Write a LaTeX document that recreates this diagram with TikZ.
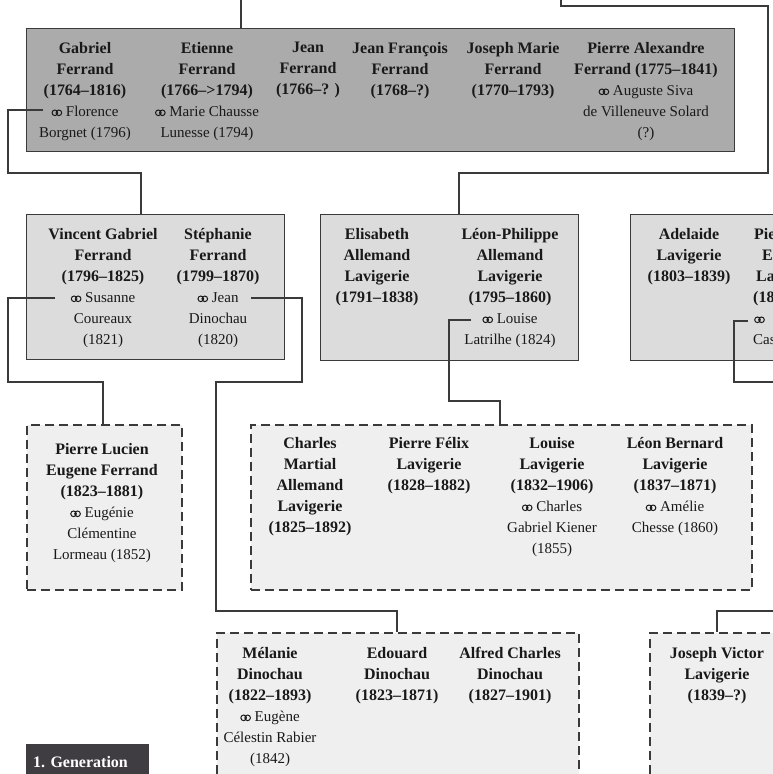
\documentclass[tikz,border=0pt]{standalone}
\usepackage{fontspec}
\setmainfont{Liberation Serif}
\definecolor{lin}{HTML}{3A3A3A}
\definecolor{genA}{HTML}{ABABAB}
\definecolor{genB}{HTML}{DCDCDC}
\definecolor{genC}{HTML}{EFEFEF}
\definecolor{tag}{HTML}{3F3D41}
\def\rings{\tikz[baseline=0pt, line width=1pt] \draw (3pt,3.5pt) circle (2.8pt) (7pt,3.5pt) circle (2.8pt);}
\def\wed{\rings\ }
\def\sm{\fontsize{15}{21}\selectfont\mdseries}

\tikzset{
  fam/.style={draw=lin, line width=1.4pt, anchor=north west, inner sep=0pt},
  kids/.style={fam, line width=1.5pt, dash pattern=on 9pt off 5pt, fill=genC},
  pers/.style={align=center, anchor=north, inner sep=0pt, text=black!90,
    font=\fontsize{16}{21}\selectfont\bfseries},
  con/.style={draw=lin, line width=1.3pt}
}

\begin{document}
\begin{tikzpicture}[x=1pt,y=-1pt]
  \useasboundingbox (0,0) rectangle (773,774);
  \clip (0,0) rectangle (773,774);

  \node[fam, fill=genA, minimum width=708, minimum height=123] (g1) at (26,28) {};
  \node[pers] (gabriel) at (85,42) {Gabriel\\Ferrand\\(1764–1816)\\\sm\wed Florence\\\sm Borgnet (1796)};
  \node[pers] (etienne) at (207,42) {Etienne\\Ferrand\\(1766–>1794)\\\sm\wed Marie Chausse\\\sm Lunesse (1794)};
  \node[pers] (jean) at (308,42) {Jean\\Ferrand\\(1766–? )};
  \node[pers] (jeanfr) at (400,42) {Jean François\\Ferrand\\(1768–?)};
  \node[pers] (joseph) at (513,42) {Joseph Marie\\Ferrand\\(1770–1793)};
  \node[pers] (pierrea) at (646,42) {Pierre Alexandre\\Ferrand (1775–1841)\\\sm\wed Auguste Siva\\\sm de Villeneuve Solard\\\sm (?)};

  \node[fam, fill=genB, minimum width=258, minimum height=145] (g2a) at (26,214) {};
  \node[fam, fill=genB, minimum width=258, minimum height=146] (g2b) at (320,214) {};
  \node[fam, fill=genB, minimum width=180, minimum height=146] (g2c) at (630,214) {};
  \node[pers] (vincent) at (103,228) {Vincent Gabriel\\Ferrand\\(1796–1825)\\\sm\wed Susanne\\\sm Coureaux\\\sm (1821)};
  \node[pers] (stephanie) at (218,228) {Stéphanie\\Ferrand\\(1799–1870)\\\sm\wed Jean\\\sm Dinochau\\\sm (1820)};
  \node[pers] (elisabeth) at (377,228) {Elisabeth\\Allemand\\Lavigerie\\(1791–1838)};
  \node[pers] (leon) at (510,228) {Léon-Philippe\\Allemand\\Lavigerie\\(1795–1860)\\\sm\wed Louise\\\sm Latrilhe (1824)};
  \node[pers] (adelaide) at (689,228) {Adelaide\\Lavigerie\\(1803–1839)};
  \node[pers, align=left, anchor=north west] (pierree) at (753,228) {\hspace*{1pt}Pie\\\hspace*{9pt}E\\\hspace*{3pt}La\\(18\\\sm\hspace*{1pt}\rings\\\sm Cas};

  \node[kids, minimum width=155, minimum height=165] (g3a) at (26,424) {};
  \node[kids, minimum width=501, minimum height=165] (g3b) at (250,424) {};
  \node[pers] (lucien) at (102,443) {Pierre Lucien\\Eugene Ferrand\\(1823–1881)\\\sm\wed Eugénie\\\sm Clémentine\\\sm Lormeau (1852)};
  \node[pers] (charles) at (310,437) {Charles\\Martial\\Allemand\\Lavigerie\\(1825–1892)};
  \node[pers] (felix) at (429,437) {Pierre Félix\\Lavigerie\\(1828–1882)};
  \node[pers] (louise) at (552,437) {Louise\\Lavigerie\\(1832–1906)\\\sm\wed Charles\\\sm Gabriel Kiener\\\sm (1855)};
  \node[pers] (bernard) at (675,437) {Léon Bernard\\Lavigerie\\(1837–1871)\\\sm\wed Amélie\\\sm Chesse (1860)};

  \node[kids, minimum width=362, minimum height=180] (g4a) at (216,632) {};
  \node[kids, minimum width=180, minimum height=180] (g4b) at (649,632) {};
  \node[pers] (melanie) at (270,647) {Mélanie\\Dinochau\\(1822–1893)\\\sm\wed Eugène\\\sm Célestin Rabier\\\sm (1842)};
  \node[pers] (edouard) at (397,647) {Edouard\\Dinochau\\(1823–1871)};
  \node[pers] (alfred) at (510,647) {Alfred Charles\\Dinochau\\(1827–1901)};
  \node[pers] (victor) at (717,647) {Joseph Victor\\Lavigerie\\(1839–?)};

  \node[fill=tag, text=white, anchor=north west, inner sep=0pt, minimum height=36,
    text width=109, inner xsep=7pt, font=\fontsize{16}{21}\selectfont\bfseries] (gen) at (26,744) {1.\ Generation};

  \coordinate (up1) at (241,0);
  \coordinate (up2) at (561,0);
  \coordinate (gm) at (43,110);
  \coordinate (vm) at (55,298);
  \coordinate (sm) at (251,298);
  \coordinate (lm) at (471,320);
  \coordinate (pm) at (748,321);
  \coordinate (off1) at (790,382);
  \coordinate (off2) at (790,611);
  \coordinate (g2at) at (141,214);
  \coordinate (g2bt) at (459,214);
  \coordinate (g3at) at (103,424);
  \coordinate (g3bt) at (500,424);
  \coordinate (g4at) at (397,632);
  \coordinate (g4bt) at (717,632);

  \draw[con] (up1) -- (up1 |- g1.north);
  \draw[con] (up2) |- (768,6) |- (459,173) -- (g2bt);
  \draw[con] (gm) -| (8,173) -| (g2at);
  \draw[con] (vm) -| (8,382) -| (g3at);
  \draw[con] (sm) -| (302,382) -| (216,611) -| (g4at);
  \draw[con] (lm) -| (449,401) -| (g3bt);
  \draw[con] (pm) -| (734,382) -- (off1);
  \draw[con] (off2) -| (g4bt);
\end{tikzpicture}
\end{document}
